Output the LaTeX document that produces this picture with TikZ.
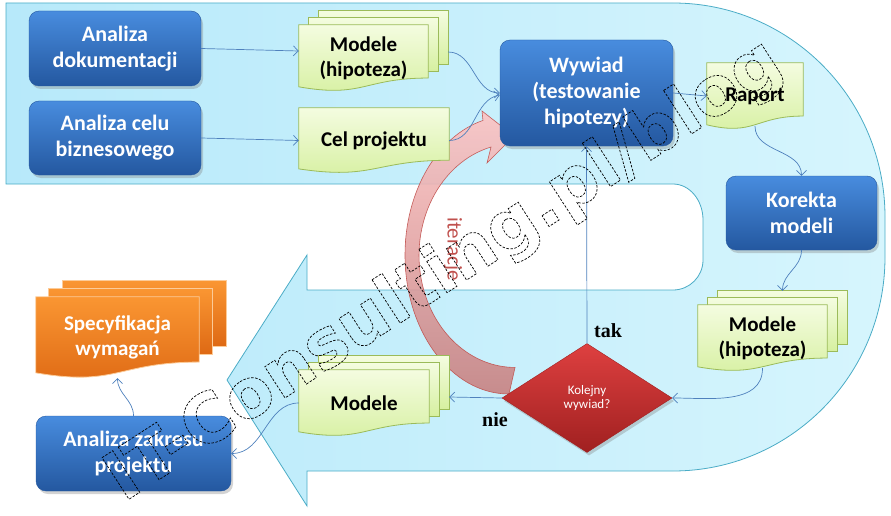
\documentclass[tikz,border=0pt]{standalone}
\usepackage{fontspec}
\setmainfont{Carlito}
\newfontfamily\tnr{Liberation Serif}
\newfontfamily\wmfont{DejaVu Sans}
\usetikzlibrary{positioning,arrows.meta,calc,shapes.geometric,shadows}

\pgfdeclarelayer{band}
\pgfdeclarelayer{iter}
\pgfdeclarelayer{docs}
\pgfsetlayers{band,iter,docs,main}

\definecolor{boxtop}{RGB}{72,140,222}
\definecolor{boxbot}{RGB}{36,88,160}
\definecolor{doctop}{RGB}{244,252,224}
\definecolor{docbot}{RGB}{214,240,160}
\definecolor{docline}{RGB}{155,187,89}
\definecolor{spectop}{RGB}{250,150,50}
\definecolor{specbot}{RGB}{222,105,20}
\definecolor{bandl}{RGB}{183,233,250}
\definecolor{bandr}{RGB}{214,245,253}
\definecolor{bandline}{RGB}{75,172,198}
\definecolor{conncol}{RGB}{79,129,189}
\definecolor{dectop}{RGB}{222,64,64}
\definecolor{decbot}{RGB}{160,32,32}
\definecolor{itercol}{RGB}{192,80,77}
\definecolor{itertop}{RGB}{252,196,196}
\definecolor{iterbot}{RGB}{200,130,130}

% document outline behind a named node
\newcommand{\docbg}[2]{%
  \path[#2] (#1.north west) -- (#1.north east) -- ($(#1.north east)!0.802!(#1.south east)$)
    .. controls ($(#1.north)!0.802!(#1.south)$) and ($(#1.north)!1.107!(#1.south)$)
    .. ($(#1.north west)!0.934!(#1.south west)$) -- cycle;}
% back page of a stack
\newcommand{\pagebg}[4]{%
  \path[#2] ($(#1.north west)+(#3,#4)$) rectangle ($(#1.north east)!0.802!(#1.south east)+(#3,#4)$);}

\begin{document}
\begin{tikzpicture}[x=1pt,y=-1pt,
  proc/.style={rounded corners=10pt,top color=boxtop,bottom color=boxbot,draw=boxbot,line width=0.4pt,
    text=white,font=\fontsize{22}{26}\selectfont\bfseries,align=center,inner sep=0pt,
    drop shadow={opacity=0.35,shadow xshift=2pt,shadow yshift=-3pt}},
  docnode/.style={inner sep=0pt,align=center,font=\fontsize{21}{25}\selectfont\bfseries},
  docfill/.style={top color=doctop,bottom color=docbot,draw=docline,line width=0.8pt},
  specfill/.style={top color=spectop,bottom color=specbot,draw=spectop!50!white,line width=0.8pt},
  decis/.style={diamond,top color=dectop,bottom color=decbot,draw=decbot,line width=0.4pt,inner sep=0pt,
    text=white,align=center,font=\fontsize{13}{14.5}\selectfont,
    drop shadow={opacity=0.35,shadow xshift=2pt,shadow yshift=-3pt}},
  conn/.style={draw=conncol,line width=0.7pt,-{Straight Barb[length=5pt,width=10pt]}},
  lbl/.style={font=\tnr\fontsize{20}{22}\selectfont\bfseries},
  band/.style={left color=bandl,right color=bandr,draw=bandline,line width=0.8pt},
  iterarrow/.style={top color=itertop,bottom color=iterbot,draw=itercol,line width=0.6pt,opacity=0.9}]
\useasboundingbox (0,0) rectangle (891,516);

% process boxes
\node[proc,minimum width=172pt,minimum height=75pt] (adok) at (115,48.5) {Analiza\\dokumentacji};
\node[proc,minimum width=172pt,minimum height=74pt] (acel) at (115,138) {Analiza celu\\biznesowego};
\node[proc,minimum width=173pt,minimum height=106pt] (wyw) at (586.5,93) {Wywiad\\(testowanie\\hipotezy)};
\node[proc,minimum width=151pt,minimum height=74pt] (kor) at (801.5,213) {Korekta\\modeli};
\node[proc,minimum width=195pt,minimum height=75pt] (azak) at (133.5,453.5) {Analiza zakresu\\projektu};

% documents
\node[docnode,minimum width=129pt,minimum height=66pt] (mod1) at (363.5,58) {Modele\\(hipoteza)};
\node[docnode,minimum width=150pt,minimum height=65pt] (cel) at (374,140.5) {Cel projektu};
\node[docnode,minimum width=96pt,minimum height=66pt] (rap) at (755,96) {Raport};
\node[docnode,minimum width=129pt,minimum height=66pt] (mod2) at (762.5,338) {Modele\\(hipoteza)};
\node[docnode,minimum width=130pt,minimum height=66pt] (mod3) at (364,403) {Modele};
\node[docnode,text=white,minimum width=163pt,minimum height=81pt] (spec) at (117.5,337.5) {Specyfikacja\\wymagań};

\node[decis,minimum width=170pt,minimum height=109pt] (dec) at (587,398) {Kolejny\\wywiad?};

\node[lbl] (tak) at (608,331) {tak};
\node[lbl] (nie) at (495,420) {nie};
\node[rotate=-90,text=itercol,font=\fontsize{21}{21}\selectfont] (iter) at (453,249) {iteracje};

\begin{pgfonlayer}{docs}
\foreach \n in {mod1,mod2,mod3} {
  \pagebg{\n}{docfill}{20pt}{14pt}
  \pagebg{\n}{docfill}{10pt}{7pt}
  \docbg{\n}{docfill}
}
\docbg{cel}{docfill}
\docbg{rap}{docfill}
\pagebg{spec}{specfill}{27pt}{16pt}
\pagebg{spec}{specfill}{13pt}{8pt}
\docbg{spec}{specfill}
\end{pgfonlayer}

\begin{pgfonlayer}{band}
\path[band] (6,3) -- (673,3) arc[start angle=-90,end angle=0,x radius=212,y radius=214]
  -- (885,257) arc[start angle=0,end angle=90,x radius=212,y radius=214]
  -- (307,471) -- (307,506) -- (227,380) -- (307,255) -- (307,290) -- (673,290)
  arc[start angle=90,end angle=0,radius=30] -- (703,220)
  arc[start angle=0,end angle=-90,x radius=30,y radius=36] -- (6,184) -- cycle;
\end{pgfonlayer}

\begin{pgfonlayer}{iter}
\path[iterarrow] (509,394) arc[start angle=90,end angle=255.5,x radius=104,y radius=139]
  -- (482,111) -- (514,136) -- (487,163) -- (491,147)
  arc[start angle=255.5,end angle=90,x radius=96,y radius=112] -- cycle;
\end{pgfonlayer}

% connectors
\draw[conn] (adok.east) -- ([yshift=7pt]mod1.west);
\draw[conn] (acel.east) -- (cel.west);
\draw[conn] ([xshift=20pt,yshift=6pt]mod1.east) to[out=0,in=180] (wyw.west);
\draw[conn] (cel.east) to[out=0,in=190] ([yshift=-2pt]wyw.west);
\draw[conn] (wyw.east) -- (rap.west);
\draw[conn] ([yshift=3pt]rap.south) to[out=-90,in=90] (kor.north);
\draw[conn] (kor.south) to[out=-90,in=90] ([xshift=20pt,yshift=14pt]mod2.north);
\draw[conn] ([yshift=3pt]mod2.south) to[out=-90,in=0] (dec.east);
\draw[conn] (dec.north) -- (wyw.south);
\draw[conn] (dec.west) -- ([xshift=20pt,yshift=6pt]mod3.east);
\draw[conn] (mod3.west) to[out=180,in=0] (azak.east);
\draw[conn] (azak.north) to[out=90,in=-90] (spec.south);

\node[rotate=33,font=\wmfont\bfseries\fontsize{68}{68}\selectfont] (wm) at (445,272)
  {\special{pdf:code 1 Tr 0.7 w [2.5 1.5] 0 d}IT-Consulting.pl/blog\special{pdf:code 0 Tr [] 0 d}};
\end{tikzpicture}
\end{document}
